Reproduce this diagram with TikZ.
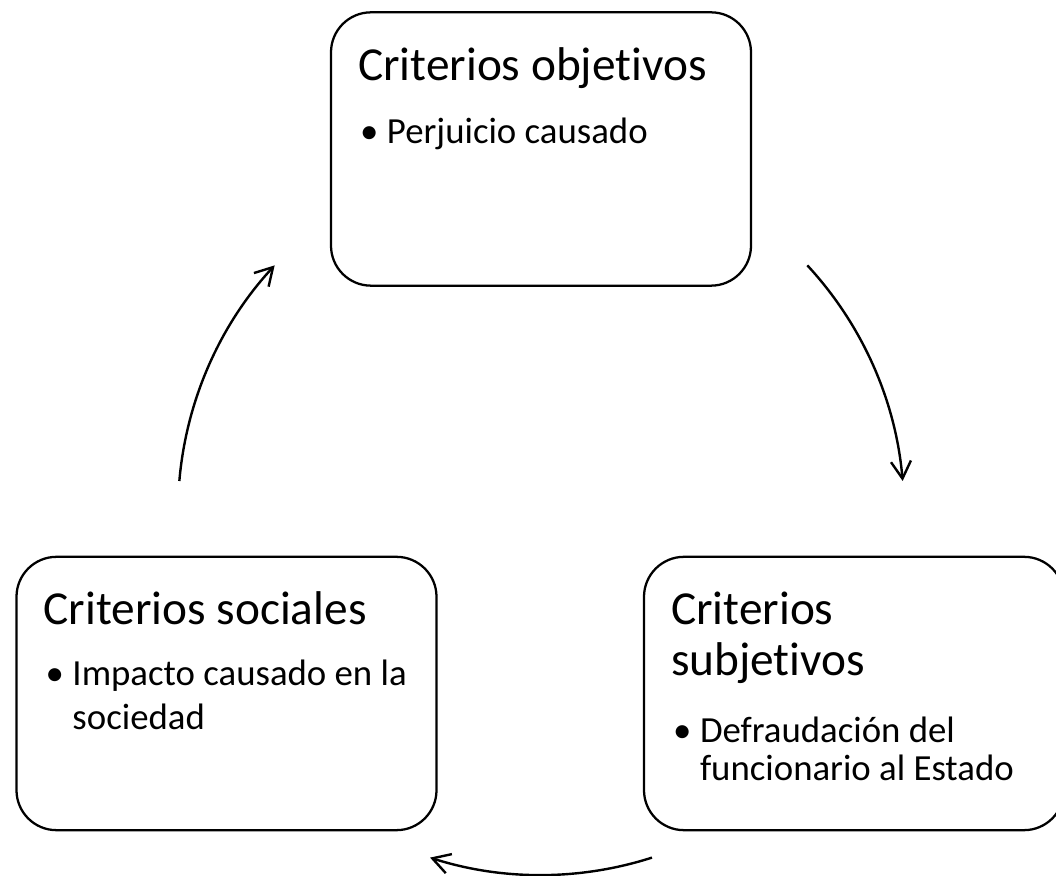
\documentclass[tikz,border=0pt]{standalone}
\usepackage{fontspec}
\setmainfont{Carlito}[Ligatures=CommonOff]
\usepackage{tikz}
\usetikzlibrary{positioning, arrows.meta}
\tikzstyle{box} = [draw, line width=1.7pt, rounded corners=30pt, minimum width=315pt, minimum height=205pt, inner sep=0pt]
\tikzstyle{heading} = [font=\fontsize{35.5}{38.3}\selectfont, inner sep=0pt, anchor=base west, align=left]
\tikzstyle{bullet} = [font=\fontsize{27.6}{33}\selectfont, inner sep=0pt, anchor=base west]
\tikzstyle{bullettext} = [font=\fontsize{27.6}{33}\selectfont, inner sep=0pt, anchor=base west, align=left]
\tikzstyle{cyclearrow} = [line width=1.8pt, -{Straight Barb[length=13pt, width=15pt]}]

\begin{document}
\begin{tikzpicture}[x=0.75pt, y=0.75pt]
  \useasboundingbox (0,0) rectangle (1056,875);

  % Boxes
  \node[box] (obj) at (541,726) {};
  \node[box] (soc) at (226.5,181.5) {};
  \node[box] (subj) at (854,181.5) {};

  % Top box
  \node[heading] (objH) at ([shift={(28,-69)}]obj.north west) {Criterios objetivos};
  \node[bullet] (objB) at ([shift={(30,-132)}]obj.north west) {•};
  \node[bullettext, base right=6pt of objB] (objI) {Perjuicio causado};

  % Left box (multi-line text sits on its last baseline)
  \node[heading] (socH) at ([shift={(28,-69)}]soc.north west) {Criterios sociales};
  \node[bullet] (socB) at ([shift={(30,-130)}]soc.north west) {•};
  \node[bullettext] (socI) at ([shift={(8,-44)}]socB.base east) {Impacto causado en la\\sociedad};

  % Right box
  \node[heading] (subjH) at ([shift={(28,-120)}]subj.north west) {Criterios\\subjetivos};
  \node[bullet] (subjB) at ([shift={(30,-187)}]subj.north west) {•};
  \node[bullettext, font=\fontsize{27.6}{28.5}\selectfont] (subjI) at ([shift={(8,-38)}]subjB.base east) {Defraudación del\\funcionario al Estado};

  % Cycle arrows
  \coordinate (cyc) at (541,363);
  \path (cyc) ++(42.8:363) coordinate (a1);
  \path (cyc) ++(-72.2:363) coordinate (a2);
  \path (cyc) ++(175.1:363) coordinate (a3);
  \draw[cyclearrow] (a1) arc[start angle=42.8, end angle=4.9, radius=363];
  \draw[cyclearrow] (a2) arc[start angle=-72.2, end angle=-107.8, radius=363];
  \draw[cyclearrow] (a3) arc[start angle=175.1, end angle=137.2, radius=363];
\end{tikzpicture}
\end{document}
